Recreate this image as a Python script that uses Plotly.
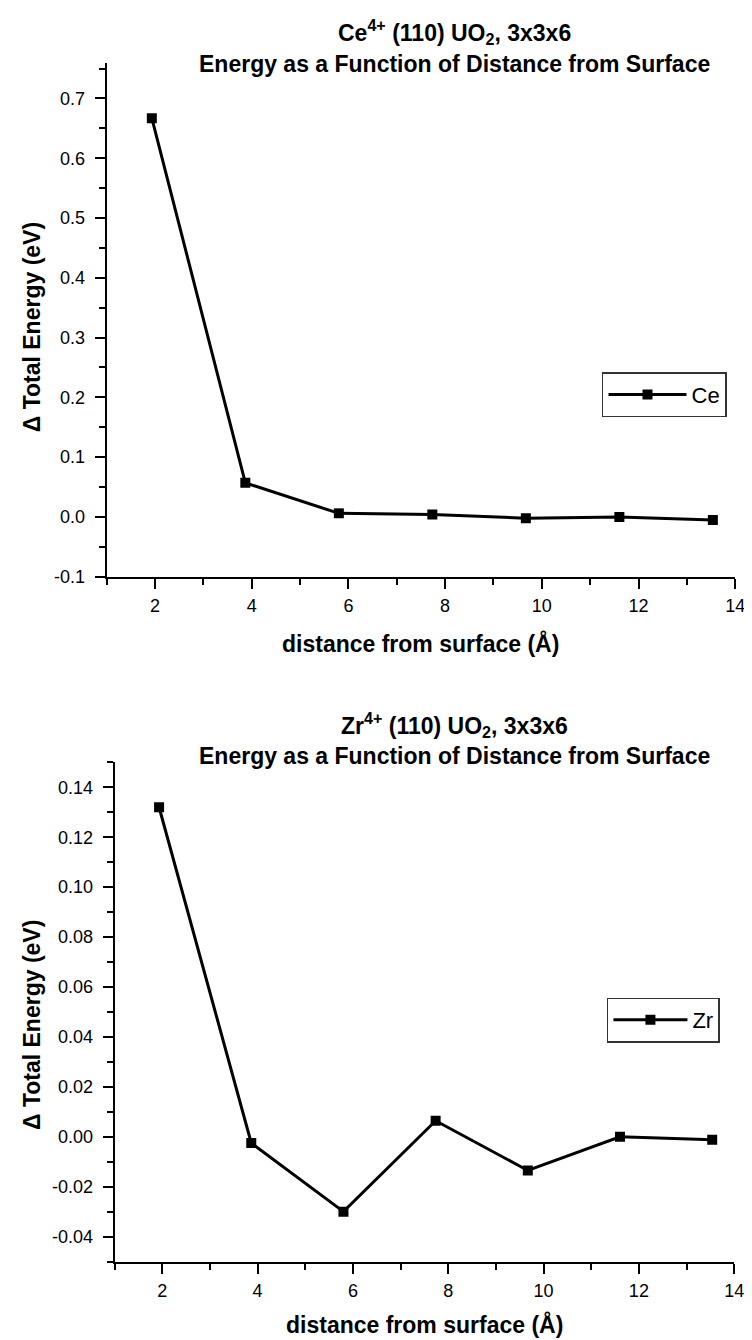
import plotly.graph_objects as go

# ---------------- data ----------------
distance = [1.934, 3.868, 5.802, 7.736, 9.670, 11.604, 13.538]
ce_energy = [0.667, 0.057, 0.006, 0.004, -0.002, 0.000, -0.005]
zr_energy = [0.132, -0.0025, -0.030, 0.0064, -0.0135, 0.000, -0.0012]

x_tickvals = [2, 4, 6, 8, 10, 12, 14]
x_ticktext = ["2", "4", "6", "8", "10", "12", "14"]
ce_tickvals = [-0.1, 0.0, 0.1, 0.2, 0.3, 0.4, 0.5, 0.6, 0.7]
ce_ticktext = ["-0.1", "0.0", "0.1", "0.2", "0.3", "0.4", "0.5", "0.6", "0.7"]
zr_tickvals = [-0.04, -0.02, 0.00, 0.02, 0.04, 0.06, 0.08, 0.10, 0.12, 0.14]
zr_ticktext = ["-0.04", "-0.02", "0.00", "0.02", "0.04", "0.06", "0.08", "0.10", "0.12", "0.14"]

ce_title1 = "Ce<sup>4+</sup> (110) UO<sub>2</sub>, 3x3x6"
zr_title1 = "Zr<sup>4+</sup> (110) UO<sub>2</sub>, 3x3x6"
title2 = "Energy as a Function of Distance from Surface"
x_title = "distance from surface (Å)"
y_title = "Δ Total Energy (eV)"

# ---------------- layout helpers ----------------
W, H = 752, 1340
FONT = "Liberation Sans, Arial, sans-serif"


def px(x):
    return x / W


def py(y):
    return 1 - y / H


fig = go.Figure()

fig.add_trace(go.Scatter(
    x=distance, y=ce_energy, name="Ce", mode="lines+markers",
    line=dict(color="black", width=3),
    marker=dict(symbol="square", size=10, color="black"),
    xaxis="x", yaxis="y", legend="legend",
))
fig.add_trace(go.Scatter(
    x=distance, y=zr_energy, name="Zr", mode="lines+markers",
    line=dict(color="black", width=3),
    marker=dict(symbol="square", size=10, color="black"),
    xaxis="x2", yaxis="y2", legend="legend2",
))

axis_common = dict(
    showline=True, linecolor="black", linewidth=2,
    ticks="outside", ticklen=10, tickwidth=2, tickcolor="black",
    showgrid=False, zeroline=False, mirror=False,
    tickfont=dict(family=FONT, size=18, color="black"),
    tickmode="array",
)

xaxis_common = dict(axis_common, range=[1, 14], tickvals=x_tickvals, ticktext=x_ticktext,
                    minor=dict(ticks="outside", ticklen=6, tickwidth=1.5, tickcolor="black",
                               tickmode="linear", tick0=1, dtick=1),
                    ticklabelstandoff=2)

fig.update_layout(
    width=W, height=H,
    margin=dict(l=0, r=0, t=0, b=0),
    paper_bgcolor="white", plot_bgcolor="white",
    xaxis=dict(xaxis_common, domain=[px(100), px(737)], anchor="y"),
    yaxis=dict(axis_common, domain=[py(573), py(55)], anchor="x",
               range=[-0.1, 0.76], tickvals=ce_tickvals, ticktext=ce_ticktext,
               minor=dict(ticks="outside", ticklen=6, tickwidth=1.5, tickcolor="black",
                          tickmode="linear", tick0=0, dtick=0.05),
               ticklabelstandoff=6),
    xaxis2=dict(xaxis_common, domain=[px(108), px(736)], anchor="y2"),
    yaxis2=dict(axis_common, domain=[py(1263), py(760)], anchor="x2",
                range=[-0.05, 0.15], tickvals=zr_tickvals, ticktext=zr_ticktext,
                minor=dict(ticks="outside", ticklen=6, tickwidth=1.5, tickcolor="black",
                           tickmode="linear", tick0=0, dtick=0.01),
                ticklabelstandoff=6),
    legend=dict(x=px(602), y=py(367), xanchor="left", yanchor="top",
                bordercolor="#333", borderwidth=1.5, bgcolor="white",
                font=dict(family=FONT, size=22, color="black"), itemwidth=78),
    legend2=dict(x=px(607), y=py(997), xanchor="left", yanchor="top",
                 bordercolor="#333", borderwidth=1.5, bgcolor="white",
                 font=dict(family=FONT, size=22, color="black"), itemwidth=74),
    showlegend=True,
)

title_font = dict(family=FONT, size=23, color="black")
ann = []
# top chart titles
ann.append(dict(text="<b>" + ce_title1 + "</b>", x=px(453), y=py(24), xanchor="center", yanchor="middle"))
ann.append(dict(text="<b>" + title2 + "</b>", x=px(453), y=py(56), xanchor="center", yanchor="middle"))
# bottom chart titles
ann.append(dict(text="<b>" + zr_title1 + "</b>", x=px(453), y=py(722), xanchor="center", yanchor="middle"))
ann.append(dict(text="<b>" + title2 + "</b>", x=px(453), y=py(754), xanchor="center", yanchor="middle"))
# x-axis titles
ann.append(dict(text="<b>" + x_title + "</b>", x=px(418.5), y=py(640), xanchor="center", yanchor="middle"))
ann.append(dict(text="<b>" + x_title + "</b>", x=px(422), y=py(1326), xanchor="center", yanchor="middle"))
# y-axis titles
ann.append(dict(text="<b>" + y_title + "</b>", x=px(24), y=py(322), xanchor="center", yanchor="middle", textangle=-90))
ann.append(dict(text="<b>" + y_title + "</b>", x=px(25), y=py(1025), xanchor="center", yanchor="middle", textangle=-90))

for a in ann:
    a.update(xref="paper", yref="paper", showarrow=False, font=title_font)
    fig.add_annotation(**a)

fig.write_html("out.html")
